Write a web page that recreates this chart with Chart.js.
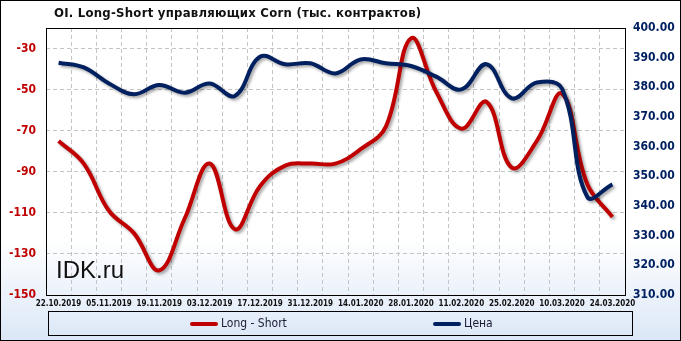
<!DOCTYPE html>
<html lang="ru">
<head>
  <meta charset="UTF-8">
  <title>OI. Long-Short Corn</title>
  <script src="https://cdn.jsdelivr.net/npm/chart.js"></script>
  <style>
    html, body { margin: 0; padding: 0; }
    #wrap {
      position: relative; width: 681px; height: 341px; overflow: hidden;
      background: linear-gradient(to bottom, #ffffff 0%, #ffffff 70%, #dbe7f7 100%);
      font-family: 'DejaVu Sans Condensed', 'DejaVu Sans', sans-serif;
    }
    #viz { position: absolute; left: 0; top: 0; }
    #frame { position: absolute; left: 0; top: 0; width: 681px; height: 341px; box-sizing: border-box; border: 1px solid #000; pointer-events: none; }
    #title { position: absolute; left: 54px; top: 5px; font-weight: bold; font-size: 13px; letter-spacing: 0.25px; color: #111; white-space: nowrap; }
    #wm { position: absolute; left: 56px; top: 256px; font: 24px 'Liberation Sans', Arial, sans-serif; color: #111; }
    #legend { position: absolute; left: 48px; top: 311px; width: 585px; height: 25px; box-sizing: border-box; border: 1px solid #000; }
    .item { position: absolute; top: 4px; font-size: 12px; color: #1b1b33; white-space: nowrap; }
    .swatch { display: inline-block; width: 28px; height: 4px; border-radius: 2px; vertical-align: middle; margin-right: 3px; }
  </style>
</head>
<body>
  <div id="wrap">
    <canvas id="viz" width="681" height="341"></canvas>
    <div id="title">OI. Long-Short управляющих Corn (тыс. контрактов)</div>
    <div id="wm">IDK.ru</div>
    <div id="legend">
      <div class="item" style="left:141px"><span class="swatch" style="background:#c00000"></span>Long - Short</div>
      <div class="item" style="left:384px"><span class="swatch" style="background:#002060"></span>Цена</div>
    </div>
    <div id="frame"></div>
  </div>

  <script>
    const dates = ['22.10.2019', '29.10.2019', '05.11.2019', '12.11.2019', '19.11.2019', '26.11.2019',
      '03.12.2019', '10.12.2019', '17.12.2019', '24.12.2019', '31.12.2019', '07.01.2020',
      '14.01.2020', '21.01.2020', '28.01.2020', '04.02.2020', '11.02.2020', '18.02.2020',
      '25.02.2020', '03.03.2020', '10.03.2020', '17.03.2020', '24.03.2020']
    const longShort = [-75, -86, -109, -120, -138, -113, -86, -118, -97, -87, -86, -86,
      -79, -68, -25, -51, -69, -56, -88, -75, -52, -96, -112]
    const price = [388.3, 386.7, 381.3, 377.7, 380.8, 378.2, 381.3, 377.1, 390.3, 387.8, 388.1, 384.7,
      389.4, 388.1, 387.2, 383.6, 379.3, 387.8, 376.3, 381.6, 379.5, 343.1, 347.3]
    const leftTicks = [-150, -130, -110, -90, -70, -50, -30]
    const rightTicks = [310, 320, 330, 340, 350, 360, 370, 380, 390, 400]

    const tickFont = { family: "'DejaVu Sans Condensed', 'DejaVu Sans', sans-serif", weight: 'bold', size: 12 }

    // gray drop shadow under both lines
    const lineShadow = {
      id: 'lineShadow',
      beforeDatasetsDraw(chart) {
        const c = chart.ctx
        c.save()
        c.shadowColor = 'rgba(0,0,0,0.35)'
        c.shadowBlur = 3
        c.shadowOffsetX = 2
        c.shadowOffsetY = 2
      },
      afterDatasetsDraw(chart) {
        chart.ctx.restore()
      }
    }

    // black frame around the plot area
    const plotFrame = {
      id: 'plotFrame',
      beforeDatasetsDraw(chart) {
        const { ctx, chartArea: a } = chart
        ctx.save()
        ctx.strokeStyle = '#000'
        ctx.lineWidth = 1
        ctx.strokeRect(Math.round(a.left) + 0.5, Math.round(a.top) + 0.5, Math.round(a.right - a.left), Math.round(a.bottom - a.top))
        ctx.restore()
      }
    }

    const chart = new Chart(document.getElementById('viz'), {
      type: 'line',
      data: {
        labels: dates,
        datasets: [{
          label: 'Long - Short',
          data: longShort,
          yAxisID: 'yL',
          borderColor: '#c00000',
          borderWidth: 4,
          pointRadius: 0,
          tension: 0.4,
          order: 1
        }, {
          label: 'Цена',
          data: price,
          yAxisID: 'yR',
          borderColor: '#002060',
          borderWidth: 4,
          pointRadius: 0,
          tension: 0.4,
          order: 0
        }]
      },
      options: {
        responsive: false,
        animation: false,
        layout: { padding: { top: 28, left: 0, right: 0, bottom: 0 } },
        plugins: {
          legend: { display: false },
          title: { display: false },
          tooltip: { enabled: false }
        },
        scales: {
          x: {
            offset: true,
            grid: { offset: true, color: '#c4c4c4', drawTicks: false },
            border: { display: false, dash: [4, 3] },
            ticks: {
              autoSkip: false, maxRotation: 0, padding: 4, color: '#111',
              font: { family: tickFont.family, weight: 'bold', size: 8 },
              callback: (v, i) => i % 2 === 0 ? dates[i] : ''
            },
            afterFit: s => { s.height = 46 }
          },
          yL: {
            position: 'left',
            min: -150, max: -20,
            afterBuildTicks: s => { s.ticks = leftTicks.map(v => ({ value: v })) },
            grid: { color: '#c4c4c4', drawTicks: false },
            border: { display: false, dash: [4, 3] },
            ticks: { color: '#c00000', font: tickFont, padding: 10 },
            afterFit: s => { s.width = 46 }
          },
          yR: {
            position: 'right',
            min: 310, max: 400,
            afterBuildTicks: s => { s.ticks = rightTicks.map(v => ({ value: v })) },
            grid: { drawOnChartArea: false, drawTicks: false },
            border: { display: false },
            ticks: { color: '#002060', font: tickFont, padding: 8, callback: v => Number(v).toFixed(2) },
            afterFit: s => { s.width = 56 }
          }
        }
      },
      plugins: [plotFrame, lineShadow]
    })
  </script>
</body>
</html>
